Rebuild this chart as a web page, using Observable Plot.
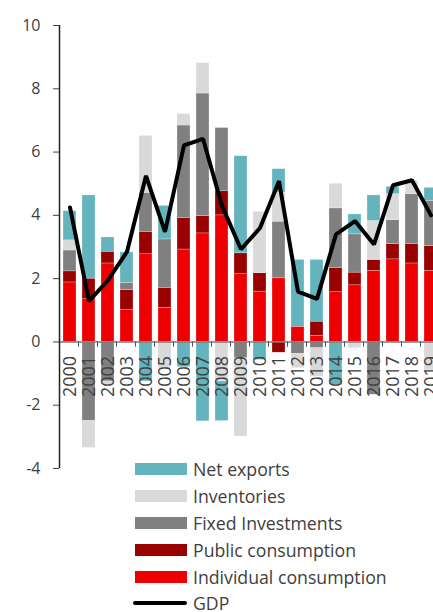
<!DOCTYPE html>
<html>
<head>
<meta charset="utf-8">
<script src="https://cdn.jsdelivr.net/npm/d3@7"></script>
<script src="https://cdn.jsdelivr.net/npm/@observablehq/plot@0.6"></script>
<style>
  html, body { margin: 0; padding: 0; background: #fff; overflow: hidden; width: 433px; height: 612px; }
  #wrap { position: relative; width: 433px; height: 612px; font-family: "Open Sans", sans-serif; overflow: hidden; }
  #chart { position: absolute; left: 0; top: 0; width: 440px; }
  #chart svg { max-width: none !important; width: 440px !important; height: 480px !important; }
  #legend { position: absolute; left: 135px; top: 456px; color: #404040; font-size: 17.7px; }
  .row { display: flex; align-items: center; height: 26.8px; white-space: nowrap; }
  .sw { width: 52px; height: 12px; margin-right: 6px; flex: none; }
  .ln { width: 54px; height: 4px; margin-left: -2px; margin-right: 6px; background: #000; border-radius: 2px; flex: none; }
</style>
</head>
<body>
<div id="wrap"><div id="chart"></div><div id="legend"></div></div>
<script>
const years = ["2000","2001","2002","2003","2004","2005","2006","2007","2008","2009","2010","2011","2012","2013","2014","2015","2016","2017","2018","2019"];
const individualConsumption = [1.88, 1.35, 2.48, 1.01, 2.77, 1.08, 2.92, 3.43, 4.00, 2.14, 1.59, 2.01, 0.48, 0.19, 1.57, 1.79, 2.25, 2.61, 2.48, 2.25];
const publicConsumption     = [0.35, 0.65, 0.37, 0.63, 0.71, 0.63, 1.00, 0.55, 0.77, 0.66, 0.58, -0.34, 0.00, 0.45, 0.77, 0.40, 0.34, 0.48, 0.61, 0.78];
const fixedInvestments      = [0.66, -2.50, -1.25, 0.23, 1.23, 1.53, 2.92, 3.87, 1.99, -0.52, 0.00, 1.79, -0.38, -0.20, 1.88, 1.21, -1.67, 0.76, 1.58, 1.43];
const inventories           = [0.32, -0.85, -0.10, 0.00, 1.80, -0.83, 0.36, 0.96, -1.25, -2.47, 1.94, 0.92, -0.45, -0.90, 0.78, -0.20, 1.23, 0.82, 0.42, -0.90];
const netExports            = [0.92, 2.63, 0.45, 0.96, -1.25, 1.06, -0.80, -2.51, -1.25, 3.07, -0.57, 0.74, 2.11, 1.95, -1.36, 0.63, 0.81, 0.23, 0.00, 0.41];
const gdp                   = [4.25, 1.29, 1.95, 2.85, 5.25, 3.48, 6.21, 6.42, 4.30, 2.93, 3.60, 5.08, 1.59, 1.36, 3.40, 3.82, 3.08, 4.95, 5.11, 4.00];
const yTicks = [-4, -2, 0, 2, 4, 6, 8, 10];

const seriesNames = ["Individual consumption", "Public consumption", "Fixed Investments", "Inventories", "Net exports"];
const seriesColors = ["#ee0000", "#990000", "#808080", "#d9d9d9", "#63b4bd"];
const seriesValues = [individualConsumption, publicConsumption, fixedInvestments, inventories, netExports];

const bars = [];
years.forEach((yr, i) => {
  seriesNames.forEach((name, s) => {
    bars.push({year: yr, series: name, value: seriesValues[s][i]});
  });
});
const gdpData = years.map((yr, i) => ({year: yr, value: gdp[i]}));

const chart = Plot.plot({
  width: 440,
  height: 480,
  marginTop: 25,
  marginBottom: 12,
  marginLeft: 59,
  marginRight: 0,
  style: {fontFamily: "Open Sans, sans-serif", background: "transparent", overflow: "visible"},
  x: {domain: years, paddingInner: 0.34, paddingOuter: 0.17, axis: null},
  y: {domain: [-4, 10], axis: null},
  color: {domain: seriesNames, range: seriesColors},
  marks: [
    Plot.barY(bars, Plot.stackY({x: "year", y: "value", fill: "series", order: seriesNames, stroke: "white", strokeWidth: 0.5, strokeOpacity: 0.5})),
    Plot.ruleY([0], {stroke: "#7a7a7a", strokeWidth: 1.5}),
    Plot.ruleX(years, {x: d => d, y1: 0, y2: -0.17, dx: -10.5, stroke: "#555", strokeWidth: 1}),
    Plot.text(years, {x: d => d, y: 0, text: d => d, rotate: -90, textAnchor: "end", lineAnchor: "middle", dy: 14, fontSize: 18, fill: "#404040"}),
    Plot.axisY({ticks: yTicks, label: null, tickSize: 6, tickPadding: 13, tickFormat: d => String(d), fontSize: 16, color: "#404040", stroke: "#444"}),
    Plot.ruleX([years[0]], {x: d => d, y1: -4, y2: 10, dx: -10.5, stroke: "#222", strokeWidth: 1.5}),
    Plot.line(gdpData, {x: "year", y: "value", stroke: "#000", strokeWidth: 4, strokeLinejoin: "miter"})
  ]
});
document.getElementById("chart").appendChild(chart);

const legendItems = [
  {label: "Net exports", color: "#63b4bd"},
  {label: "Inventories", color: "#d9d9d9"},
  {label: "Fixed Investments", color: "#808080"},
  {label: "Public consumption", color: "#990000"},
  {label: "Individual consumption", color: "#ee0000"},
  {label: "GDP", line: true}
];
const legend = document.getElementById("legend");
legendItems.forEach(it => {
  const row = document.createElement("div");
  row.className = "row";
  const sw = document.createElement("div");
  if (it.line) { sw.className = "ln"; } else { sw.className = "sw"; sw.style.background = it.color; }
  const t = document.createElement("span");
  t.textContent = it.label;
  row.appendChild(sw); row.appendChild(t);
  legend.appendChild(row);
});
</script>
</body>
</html>
